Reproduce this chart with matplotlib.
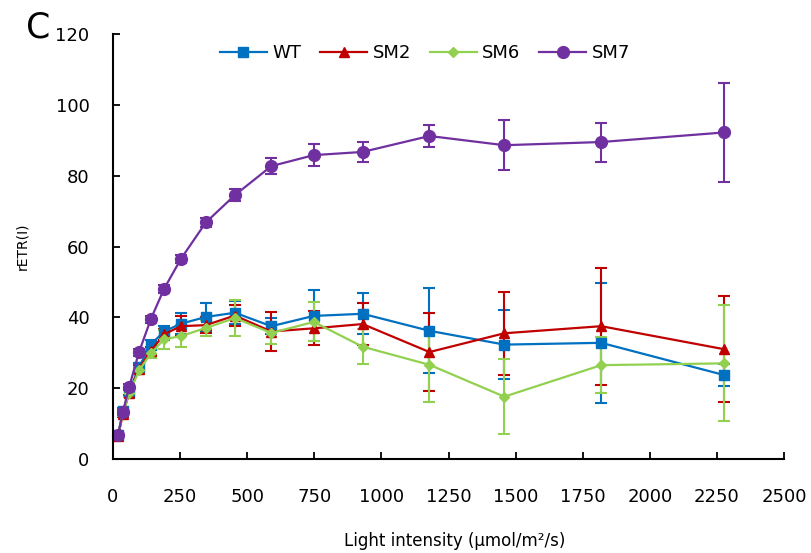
import matplotlib
matplotlib.use("Agg")
import matplotlib.pyplot as plt

# light intensity steps (umol/m2/s)
light = [19, 37, 60, 97, 141, 190, 253, 346, 454, 590, 748, 930, 1179, 1458, 1819, 2277]

wt = [6.9, 13.5, 19.0, 26.0, 32.3, 36.0, 38.2, 40.1, 41.3, 37.5, 40.4, 41.0, 36.2, 32.3, 32.8, 23.7]
wt_err = [0.5, 0.8, 1.0, 1.0, 1.2, 1.5, 2.9, 4.0, 3.3, 2.3, 7.2, 5.8, 12.0, 9.8, 17.0, 3.0]

sm2 = [6.5, 12.8, 18.5, 25.5, 30.5, 35.2, 37.5, 37.8, 40.5, 36.0, 36.9, 38.1, 30.2, 35.5, 37.5, 31.0]
sm2_err = [0.5, 0.8, 1.0, 1.0, 1.0, 1.5, 2.9, 2.2, 3.0, 5.4, 4.8, 6.0, 11.0, 11.7, 16.5, 15.0]

sm6 = [6.6, 13.0, 18.5, 25.0, 29.8, 33.8, 34.7, 37.0, 39.8, 35.6, 38.7, 31.7, 26.6, 17.6, 26.5, 27.0]
sm6_err = [0.5, 0.8, 1.0, 1.0, 1.2, 2.6, 3.0, 2.3, 5.2, 3.0, 5.5, 5.0, 10.4, 10.5, 8.0, 16.4]

sm7 = [6.8, 13.3, 20.3, 30.2, 39.5, 48.0, 56.5, 66.8, 74.5, 82.7, 85.8, 86.7, 91.2, 88.6, 89.5, 92.2]
sm7_err = [0.8, 0.8, 0.8, 1.0, 1.0, 1.0, 1.2, 1.2, 1.7, 2.2, 3.1, 2.8, 3.1, 7.0, 5.5, 14.0]

names = ["WT", "SM2", "SM6", "SM7"]
colors = ["#0070C0", "#C00000", "#92D050", "#7030A0"]
markers = ["s", "^", "D", "o"]
msizes = [6.5, 7.5, 5.5, 8.5]

fig = plt.figure(figsize=(8.11, 5.53), dpi=100)
ax = fig.add_axes([113 / 811, 1 - 459 / 553, 671 / 811, 425 / 553])

series = [(wt, wt_err), (sm2, sm2_err), (sm6, sm6_err), (sm7, sm7_err)]
handles = []
for (vals, errs), name, c, m, ms in zip(series, names, colors, markers, msizes):
    eb = ax.errorbar(light, vals, yerr=errs, color=c, marker=m, markersize=ms,
                     linewidth=1.6, elinewidth=1.5, capsize=4, capthick=1.5,
                     label=name, clip_on=False)
    handles.append(eb[0])

ax.set_xlim(0, 2500)
ax.set_ylim(0, 120)
ax.set_xticks(range(0, 2501, 250))
ax.set_yticks(range(0, 121, 20))
ax.spines["top"].set_visible(False)
ax.spines["right"].set_visible(False)
ax.spines["left"].set_linewidth(1.5)
ax.spines["bottom"].set_linewidth(1.5)
ax.tick_params(axis="both", direction="in", length=5, width=1.3, labelsize=13)
ax.tick_params(axis="y", pad=17)
ax.tick_params(axis="x", pad=21)

ax.legend(handles, names, loc="center", bbox_to_anchor=(0.465, 0.955), ncol=4,
          frameon=False, fontsize=13, handlelength=2.6, handletextpad=0.3,
          columnspacing=1.05)

fig.text(22 / 811, 1 - 246 / 553, "rETR(I)", rotation=90, ha="center", va="center", fontsize=10)
fig.text(455 / 811, 1 - 541 / 553, "Light intensity (μmol/m²/s)", ha="center", va="center", fontsize=12)
fig.text(26 / 811, 1 - 37 / 553, "C", ha="left", va="baseline", fontsize=25)

fig.savefig("out.png", dpi=100)
